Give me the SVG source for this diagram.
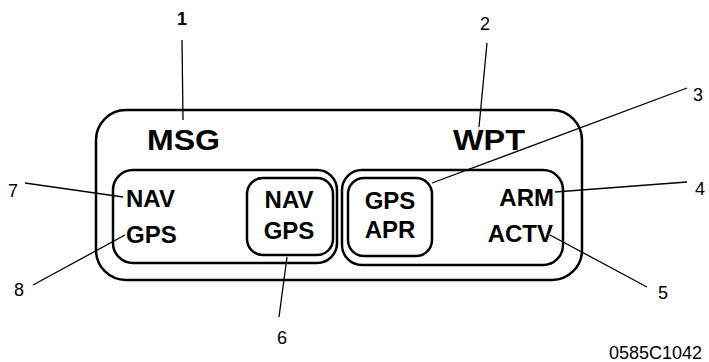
<svg xmlns="http://www.w3.org/2000/svg" width="709" height="362" viewBox="0 0 709 362">
<style>
.box{fill:none;stroke:#000;stroke-width:2.5}
.lbl{font-family:"Liberation Sans",Arial,sans-serif;font-weight:bold;fill:#000}
.num{font-family:"Liberation Sans",Arial,sans-serif;font-size:18px;fill:#000}
.lead{stroke:#000;stroke-width:1.3;fill:none}
</style>
<rect width="709" height="362" fill="#fff"/>
<g id="outer">
<rect class="box" x="96" y="110" width="486" height="170" rx="30"/>
<text class="lbl" x="147" y="150" font-size="30" textLength="73" lengthAdjust="spacingAndGlyphs">MSG</text>
<text class="lbl" x="453" y="150" font-size="30" textLength="72" lengthAdjust="spacingAndGlyphs">WPT</text>
</g>
<g id="left-panel">
<rect class="box" x="113" y="170" width="224" height="93" rx="20"/>
<text class="lbl" x="126" y="207" font-size="24">NAV</text>
<text class="lbl" x="126" y="243" font-size="24">GPS</text>
</g>
<g id="nav-gps-button">
<rect class="box" x="247" y="178" width="86" height="77" rx="16"/>
<text class="lbl" x="289" y="208" font-size="24" text-anchor="middle">NAV</text>
<text class="lbl" x="289" y="239" font-size="24" text-anchor="middle">GPS</text>
</g>
<g id="right-panel">
<rect class="box" x="342" y="170" width="221" height="95" rx="20"/>
<text class="lbl" x="554" y="206" font-size="24" text-anchor="end">ARM</text>
<text class="lbl" x="553" y="242" font-size="24" text-anchor="end">ACTV</text>
</g>
<g id="gps-apr-button">
<rect class="box" x="348" y="178" width="84" height="78" rx="16"/>
<text class="lbl" x="390" y="209" font-size="24" text-anchor="middle">GPS</text>
<text class="lbl" x="390" y="238" font-size="24" text-anchor="middle">APR</text>
</g>
<g id="connectors">
<line class="lead" x1="182" y1="40" x2="183" y2="120"/>
<line class="lead" x1="487" y1="43" x2="479" y2="127"/>
<line class="lead" x1="687" y1="88" x2="432" y2="183"/>
<line class="lead" x1="687" y1="182" x2="555" y2="192"/>
<line class="lead" x1="647" y1="287" x2="550" y2="235"/>
<line class="lead" x1="287" y1="257" x2="279" y2="317"/>
<line class="lead" x1="25" y1="183" x2="123" y2="197"/>
<line class="lead" x1="33" y1="285" x2="125" y2="235"/>
</g>
<g id="numbers">
<text class="num" x="182" y="25" text-anchor="middle" font-weight="bold">1</text>
<text class="num" x="485" y="30" text-anchor="middle">2</text>
<text class="num" x="698" y="101" text-anchor="middle">3</text>
<text class="num" x="700" y="195" text-anchor="middle">4</text>
<text class="num" x="663" y="299" text-anchor="middle">5</text>
<text class="num" x="282" y="344" text-anchor="middle">6</text>
<text class="num" x="13" y="197" text-anchor="middle">7</text>
<text class="num" x="19" y="296" text-anchor="middle">8</text>
<text class="num" x="702" y="359" text-anchor="end" font-size="16">0585C1042</text>
</g>
</svg>
